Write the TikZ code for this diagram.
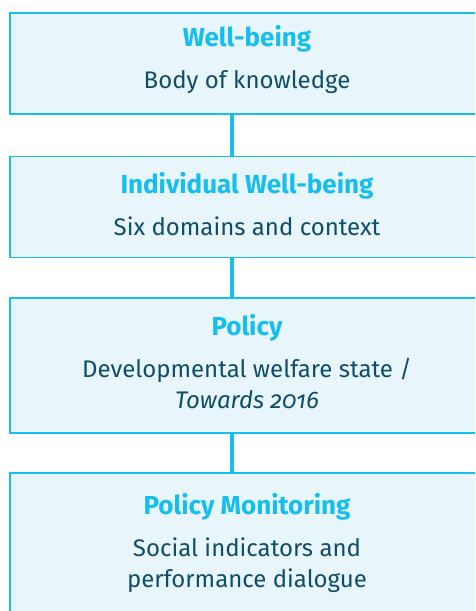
\documentclass[tikz,border=0pt]{standalone}
\usepackage{fontspec}
\setmainfont[Numbers=OldStyle]{Fira Sans}
\usetikzlibrary{positioning}
\definecolor{wbcyan}{RGB}{22,190,240}
\definecolor{wbfill}{RGB}{232,245,251}
\definecolor{wbtext}{RGB}{14,78,106}
\tikzset{
 wbbox/.style={draw=wbcyan, line width=1.6pt, fill=wbfill, minimum width=474pt, inner sep=0pt},
 wbtxt/.style={align=center, text=wbtext, inner sep=0pt, font=\fontsize{24}{31}\selectfont},
 conn/.style={draw=wbcyan, line width=4pt}
}
\newcommand{\boxhead}[1]{{\color{wbcyan}\bfseries\fontsize{26}{31}\selectfont #1}}

\begin{document}
\begin{tikzpicture}[x=1pt, y=1pt]
\useasboundingbox (0,0) rectangle (475,-611);
\clip (0,0) rectangle (475,-611);
% boxes
\node[wbbox, minimum height=101pt] (wb) at (247,-63.5) {};
\node[wbbox, minimum height=101pt, below=41pt of wb] (iwb) {};
\node[wbbox, minimum height=135pt, below=39pt of iwb] (pol) {};
\node[wbbox, minimum height=148pt, below=38pt of pol] (mon) {};
% texts
\node[wbtxt] (wb-t) at ([yshift=4]wb.center)
  {\boxhead{Well-being}\\[11pt]Body of knowledge};
\node[wbtxt] (iwb-t) at ([yshift=3]iwb.center)
  {\boxhead{Individual Well-being}\\[11pt]Six domains and context};
\node[wbtxt] (pol-t) at ([yshift=4]pol.center)
  {\boxhead{Policy}\\[11pt]Developmental welfare state /\\\textit{Towards 2016}};
\node[wbtxt] (mon-t) at ([yshift=4]mon.center)
  {\boxhead{Policy Monitoring}\\[11pt]Social indicators and\\performance dialogue};
% connectors, left of centre
\foreach \a/\b in {wb/iwb,iwb/pol,pol/mon}
 \draw[conn] ([xshift=-15]\a.south) -- ([xshift=-15]\b.north);
\end{tikzpicture}
\end{document}
